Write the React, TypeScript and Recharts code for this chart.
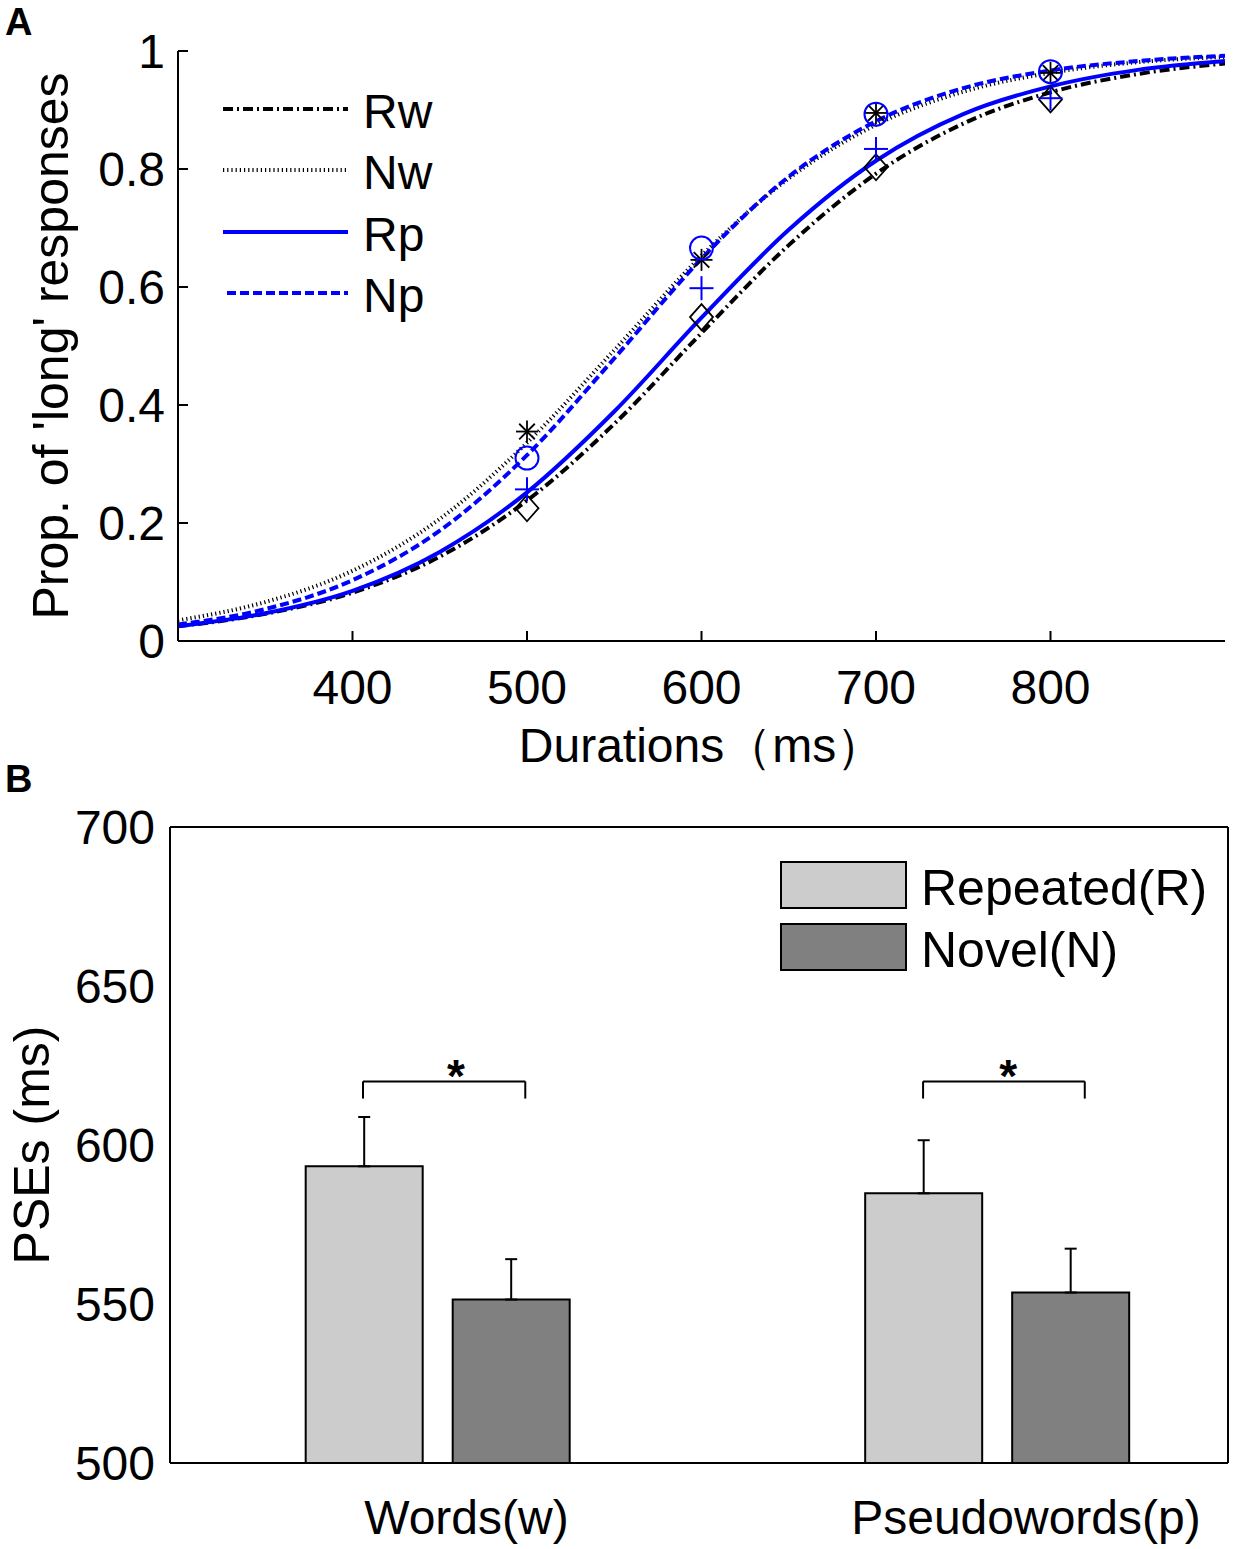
import {
  Bar,
  BarChart,
  ComposedChart,
  ErrorBar,
  Legend,
  Line,
  ReferenceDot,
  ReferenceLine,
  Scatter,
  XAxis,
  YAxis,
} from "recharts";

const FONT = "Arial, 'Liberation Sans', sans-serif";

// Panel A: fitted psychometric curves, every 50 ms
const durations = [300, 350, 400, 450, 500, 550, 600, 650, 700, 750, 800, 850, 900];
const rwCurve = [0.025, 0.046, 0.082, 0.143, 0.238, 0.368, 0.522, 0.671, 0.792, 0.877, 0.93, 0.961, 0.979];
const nwCurve = [0.035, 0.066, 0.119, 0.207, 0.336, 0.493, 0.653, 0.784, 0.875, 0.931, 0.963, 0.981, 0.99];
const rpCurve = [0.025, 0.047, 0.085, 0.151, 0.252, 0.389, 0.548, 0.697, 0.814, 0.893, 0.94, 0.968, 0.983];
const npCurve = [0.028, 0.054, 0.103, 0.187, 0.315, 0.479, 0.648, 0.787, 0.881, 0.937, 0.967, 0.983, 0.992];

// Panel A: observed proportions
const testedDurations = [500, 600, 700, 800];
const rwObserved = [0.225, 0.549, 0.803, 0.918];
const nwObserved = [0.355, 0.646, 0.895, 0.963];
const rpObserved = [0.257, 0.598, 0.834, 0.92];
const npObserved = [0.31, 0.666, 0.893, 0.965];

const xTicksA = [400, 500, 600, 700, 800];
const yTicksA = [0, 0.2, 0.4, 0.6, 0.8, 1];

// Panel B: PSEs
const groups = ["Words(w)", "Pseudowords(p)"];
const groupPos = [1, 2];
const repeatedPSE = [593.3, 584.8];
const novelPSE = [551.4, 553.6];
const repeatedSE = [15.5, 16.7];
const novelSE = [12.7, 13.8];
const yTicksB = [500, 550, 600, 650, 700];

// significance brackets (x in axis units, y in ms)
const bracketSpans = [
  [0.867, 1.157],
  [1.868, 2.157],
];
const bracketTop = 620;
const bracketFoot = 614.6;
const starX = [1.033, 2.02];
const starY = 625;

const curveRows = durations.map((x, i) => ({
  x,
  rw: rwCurve[i],
  nw: nwCurve[i],
  rp: rpCurve[i],
  np: npCurve[i],
}));

const toPoints = (vals: number[]) => testedDurations.map((x, i) => ({ x, v: vals[i] }));

const pseRows = groups.map((name, i) => ({
  pos: groupPos[i],
  name,
  repeated: repeatedPSE[i],
  novel: novelPSE[i],
  repeatedErr: [0, repeatedSE[i]],
  novelErr: [0, novelSE[i]],
}));

const BLUE = "#0000ff";

type MarkerProps = { cx?: number; cy?: number };

function Diamond({ cx = 0, cy = 0 }: MarkerProps) {
  return (
    <path
      d={`M${cx},${cy - 13}L${cx + 11.5},${cy}L${cx},${cy + 13}L${cx - 11.5},${cy}Z`}
      fill="none"
      stroke="#000"
      strokeWidth={1.8}
    />
  );
}

function Asterisk({ cx = 0, cy = 0 }: MarkerProps) {
  const r = 11;
  const d = 7.8;
  return (
    <g stroke="#000" strokeWidth={1.8}>
      <line x1={cx - r} y1={cy} x2={cx + r} y2={cy} />
      <line x1={cx} y1={cy - r} x2={cx} y2={cy + r} />
      <line x1={cx - d} y1={cy - d} x2={cx + d} y2={cy + d} />
      <line x1={cx - d} y1={cy + d} x2={cx + d} y2={cy - d} />
    </g>
  );
}

function Plus({ cx = 0, cy = 0 }: MarkerProps) {
  const r = 12;
  return (
    <g stroke={BLUE} strokeWidth={2}>
      <line x1={cx - r} y1={cy} x2={cx + r} y2={cy} />
      <line x1={cx} y1={cy - r} x2={cx} y2={cy + r} />
    </g>
  );
}

function Ring({ cx = 0, cy = 0 }: MarkerProps) {
  return <circle cx={cx} cy={cy} r={11.5} fill="none" stroke={BLUE} strokeWidth={2} />;
}

const curveLegend = [
  { name: "Rw", y: 29, x1: 8, color: "#000", dash: "10 4 2 4", width: 4 },
  { name: "Nw", y: 90, x1: 8, color: "#000", dash: "1.2 3", width: 4 },
  { name: "Rp", y: 152, x1: 8, color: BLUE, dash: undefined, width: 4 },
  { name: "Np", y: 213, x1: 12, color: BLUE, dash: "9 4", width: 4 },
];

function CurveLegend() {
  return (
    <svg width={260} height={250} style={{ fontFamily: FONT }}>
      {curveLegend.map((it) => (
        <g key={it.name}>
          <line
            x1={it.x1}
            x2={133}
            y1={it.y}
            y2={it.y}
            stroke={it.color}
            strokeWidth={it.width}
            strokeDasharray={it.dash}
          />
          <text x={148} y={it.y + 19} fontSize={48} fill="#000">
            {it.name}
          </text>
        </g>
      ))}
    </svg>
  );
}

const barLegend = [
  { name: "Repeated(R)", y: 12, fill: "#cccccc" },
  { name: "Novel(N)", y: 74, fill: "#808080" },
];

function BarLegend() {
  return (
    <svg width={460} height={140} style={{ fontFamily: FONT }}>
      {barLegend.map((it) => (
        <g key={it.name}>
          <rect x={11} y={it.y} width={125} height={46} fill={it.fill} stroke="#000" strokeWidth={2} />
          <text x={151} y={it.y + 43} fontSize={50} fill="#000">
            {it.name}
          </text>
        </g>
      ))}
    </svg>
  );
}

function StarLabel(props: any) {
  const vb = props.viewBox || {};
  const x = (vb.x ?? 0) + (vb.width ?? 0) / 2;
  const y = (vb.y ?? 0) + (vb.height ?? 0) / 2;
  return (
    <text x={x} y={y} dy="0.57em" textAnchor="middle" fontSize={46} fontWeight="bold" fill="#000">
      *
    </text>
  );
}

function CurvesChart() {
  return (
    <ComposedChart
      width={1246}
      height={782}
      data={curveRows}
      margin={{ top: 51, right: 21, left: 28, bottom: 16 }}
    >
      <XAxis
        dataKey="x"
        type="number"
        domain={[300, 900]}
        ticks={xTicksA}
        allowDataOverflow
        height={125}
        stroke="#000"
        axisLine={{ strokeWidth: 2 }}
        tickLine={{ strokeWidth: 2 }}
        tickSize={-10}
        tickMargin={39}
        tick={{ fill: "#000", fontSize: 48 }}
        label={{ value: "Durations（ms）", position: "insideBottom", offset: 4, fill: "#000", fontSize: 48 }}
      />
      <YAxis
        type="number"
        domain={[0, 1]}
        ticks={yTicksA}
        allowDataOverflow
        width={150}
        stroke="#000"
        axisLine={{ strokeWidth: 2 }}
        tickLine={{ strokeWidth: 2 }}
        tickSize={-10}
        tickMargin={23}
        tick={{ fill: "#000", fontSize: 48 }}
        label={{
          value: "Prop. of 'long' responses",
          angle: -90,
          position: "insideLeft",
          offset: 22,
          fill: "#000",
          fontSize: 50,
          style: { textAnchor: "middle" },
        }}
      />
      <Legend
        layout="horizontal"
        verticalAlign="middle"
        align="center"
        wrapperStyle={{ left: 215, top: 80, width: 260, height: 250 }}
        content={() => <CurveLegend />}
      />
      <Line dataKey="rw" type="monotone" stroke="#000" strokeWidth={4} strokeDasharray="10 4 2 4" dot={false} activeDot={false} isAnimationActive={false} />
      <Line dataKey="nw" type="monotone" stroke="#000" strokeWidth={4} strokeDasharray="1.2 3" dot={false} activeDot={false} isAnimationActive={false} />
      <Line dataKey="rp" type="monotone" stroke={BLUE} strokeWidth={4} dot={false} activeDot={false} isAnimationActive={false} />
      <Line dataKey="np" type="monotone" stroke={BLUE} strokeWidth={4} strokeDasharray="9 4" dot={false} activeDot={false} isAnimationActive={false} />
      <Scatter data={toPoints(rwObserved)} dataKey="v" shape={(p: any) => <Diamond cx={p.cx} cy={p.cy} />} isAnimationActive={false} />
      <Scatter data={toPoints(nwObserved)} dataKey="v" shape={(p: any) => <Asterisk cx={p.cx} cy={p.cy} />} isAnimationActive={false} />
      <Scatter data={toPoints(rpObserved)} dataKey="v" shape={(p: any) => <Plus cx={p.cx} cy={p.cy} />} isAnimationActive={false} />
      <Scatter data={toPoints(npObserved)} dataKey="v" shape={(p: any) => <Ring cx={p.cx} cy={p.cy} />} isAnimationActive={false} />
    </ComposedChart>
  );
}

function PseChart() {
  return (
    <BarChart
      width={1246}
      height={779}
      data={pseRows}
      barGap={30}
      margin={{ top: 56, right: 17, left: 0, bottom: 0 }}
    >
      <XAxis
        dataKey="pos"
        type="number"
        domain={[0.522, 2.413]}
        ticks={groupPos}
        allowDataOverflow
        height={86}
        stroke="#000"
        axisLine={{ strokeWidth: 2 }}
        tickLine={false}
        tickSize={0}
        tickMargin={37}
        tickFormatter={(v: number) => groups[groupPos.indexOf(v)]}
        tick={{ fill: "#000", fontSize: 48, dx: 29 }}
      />
      <XAxis
        xAxisId="top"
        orientation="top"
        type="number"
        domain={[0.522, 2.413]}
        allowDataOverflow
        height={1}
        stroke="#000"
        axisLine={{ strokeWidth: 2 }}
        tick={false}
        tickLine={false}
      />
      <YAxis
        type="number"
        domain={[500, 700]}
        ticks={yTicksB}
        allowDataOverflow
        width={170}
        stroke="#000"
        axisLine={{ strokeWidth: 2 }}
        tickLine={false}
        tickSize={0}
        tickMargin={15}
        tick={{ fill: "#000", fontSize: 48 }}
        label={{
          value: "PSEs (ms)",
          angle: -90,
          position: "insideLeft",
          offset: 31,
          fill: "#000",
          fontSize: 50,
          style: { textAnchor: "middle" },
        }}
      />
      <YAxis
        yAxisId="right"
        orientation="right"
        type="number"
        domain={[500, 700]}
        allowDataOverflow
        width={1}
        stroke="#000"
        axisLine={{ strokeWidth: 2 }}
        tick={false}
        tickLine={false}
      />
      <Legend
        layout="horizontal"
        verticalAlign="middle"
        align="center"
        wrapperStyle={{ left: 770, top: 80, width: 460, height: 140 }}
        content={() => <BarLegend />}
      />
      <Bar dataKey="repeated" fill="#cccccc" stroke="#000" strokeWidth={2} barSize={117} isAnimationActive={false}>
        <ErrorBar dataKey="repeatedErr" direction="y" width={6} stroke="#000" strokeWidth={2} />
      </Bar>
      <Bar dataKey="novel" fill="#808080" stroke="#000" strokeWidth={2} barSize={117} isAnimationActive={false}>
        <ErrorBar dataKey="novelErr" direction="y" width={6} stroke="#000" strokeWidth={2} />
      </Bar>
      {bracketSpans.map(([a], i) => (
        <ReferenceLine key={`l${i}`} segment={[{ x: a, y: bracketFoot }, { x: a, y: bracketTop }]} stroke="#000" strokeWidth={2} />
      ))}
      {bracketSpans.map(([a, b], i) => (
        <ReferenceLine key={`t${i}`} segment={[{ x: a, y: bracketTop }, { x: b, y: bracketTop }]} stroke="#000" strokeWidth={2} />
      ))}
      {bracketSpans.map(([, b], i) => (
        <ReferenceLine key={`r${i}`} segment={[{ x: b, y: bracketTop }, { x: b, y: bracketFoot }]} stroke="#000" strokeWidth={2} />
      ))}
      {starX.map((x, i) => (
        <ReferenceDot key={`s${i}`} x={x} y={starY} r={0} stroke="none" fill="none" label={(p: any) => <StarLabel {...p} />} />
      ))}
    </BarChart>
  );
}

function PanelLetters() {
  return (
    <svg
      width={1246}
      height={1549}
      style={{ position: "absolute", left: 0, top: 0, pointerEvents: "none", fontFamily: FONT }}
    >
      <text x={5} y={35} fontSize={38} fontWeight="bold" fill="#000">
        A
      </text>
      <text x={5} y={792} fontSize={38} fontWeight="bold" fill="#000">
        B
      </text>
    </svg>
  );
}

export default function App() {
  return (
    <div
      style={{
        position: "absolute",
        left: 0,
        top: 0,
        width: 1246,
        height: 1549,
        background: "#fff",
        fontFamily: FONT,
      }}
    >
      <div style={{ position: "absolute", left: 0, top: 0 }}>
        <CurvesChart />
      </div>
      <div style={{ position: "absolute", left: 0, top: 770 }}>
        <PseChart />
      </div>
      <PanelLetters />
    </div>
  );
}
